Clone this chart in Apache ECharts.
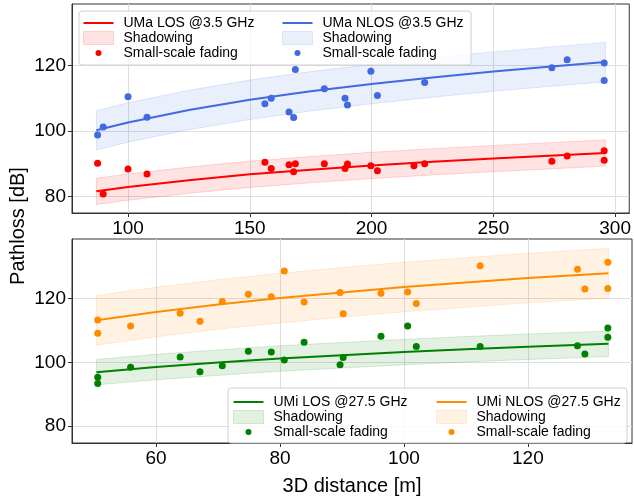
<!DOCTYPE html>
<html>
<head>
<meta charset="utf-8">
<script src="https://cdn.jsdelivr.net/npm/echarts@6/dist/echarts.min.js"></script>
<style>
  html, body { margin: 0; padding: 0; background: #fff; }
  #main { width: 634px; height: 497px; }
</style>
</head>
<body>
<div id="main"></div>
<script>
// ---- top panel: UMa @ 3.5 GHz ----
var umaLosDist = [87.5, 89.8, 100, 107.8, 156.2, 158.8, 166.1, 168, 168.7, 180.6, 189.1, 190.1, 199.7, 202.4, 217.4, 221.8, 274, 280.3, 295.5, 295.5];
var umaLosPL   = [90.2, 80.8, 88.4, 86.9, 90.5, 88.6, 89.7, 87.6, 90.0, 90.0, 88.6, 89.9, 89.4, 87.9, 89.4, 90.0, 90.8, 92.4, 94.0, 91.1];
var umaNlosDist = [87.5, 89.8, 100, 107.8, 156.2, 158.8, 166.1, 168, 168.7, 180.6, 189.1, 190.1, 199.7, 202.4, 221.8, 274, 280.3, 295.5, 295.5];
var umaNlosPL   = [98.8, 101.2, 110.4, 104.2, 108.3, 110.0, 105.8, 104.1, 118.7, 112.9, 110.0, 107.9, 118.2, 110.8, 114.8, 119.3, 121.7, 120.7, 115.4];

// model curves
var umaCurveDist = [87, 100, 125, 150, 175, 200, 225, 250, 275, 296];
var umaLosCurve  = [81.6, 82.9, 85.0, 86.8, 88.2, 89.5, 90.6, 91.6, 92.5, 93.3];
var umaNlosCurve = [100.2, 102.6, 106.4, 109.5, 112.1, 114.3, 116.3, 118.1, 119.7, 121.0];
var umaLosSpread = 4;
var umaNlosSpread = 6;

// ---- bottom panel: UMi @ 27.5 GHz ----
var umiDist = [50.6, 50.6, 55.9, 63.9, 67.1, 70.7, 74.9, 78.6, 80.7, 83.9, 89.7, 90.2, 96.3, 100.6, 102.0, 112.3, 128.0, 129.2, 132.9, 132.9];
var umiLosPL  = [95.3, 93.3, 98.4, 101.7, 97.0, 98.9, 103.5, 103.2, 100.7, 106.3, 99.2, 101.5, 108.2, 111.4, 105.0, 105.0, 105.2, 102.6, 110.8, 107.9];
var umiNlosPL = [113.3, 109.1, 111.4, 115.4, 112.9, 119.1, 121.4, 120.6, 128.7, 119.0, 122.0, 115.3, 121.7, 122.1, 118.5, 130.4, 129.3, 123.1, 131.5, 123.2];

var umiCurveDist = [50.4, 60, 70, 80, 90, 100, 110, 120, 133];
var umiLosCurve  = [96.9, 98.5, 99.9, 101.2, 102.2, 103.2, 104.1, 104.9, 105.8];
var umiNlosCurve = [113.2, 115.8, 118.2, 120.2, 122.0, 123.7, 125.1, 126.5, 128.0];
var umiLosSpread = 4;
var umiNlosSpread = 7.8;

var topTicksX = [100, 150, 200, 250, 300];
var botTicksX = [60, 80, 100, 120];
var ticksY = [80, 100, 120];

var labels = {
    'uma-los': 'UMa LOS @3.5 GHz', 'uma-nlos': 'UMa NLOS @3.5 GHz',
    'umi-los': 'UMi LOS @27.5 GHz', 'umi-nlos': 'UMi NLOS @27.5 GHz'
};

var FONT = '"Liberation Sans", Arial, sans-serif';
// icons padded to the 30x13 legend box with two leading moveTo points
var dotIcon = 'path://M0,0M30,13M12,6.5a3,3 0 1,0 6,0a3,3 0 1,0 -6,0z';
var lineIcon = 'path://M0,0M30,13M0,5.5H30V7.5H0Z';

function zip(xs, ys) {
    return xs.map(function (x, i) { return [x, ys[i]]; });
}

function bandSeries(key, axis, dist, curve, spread, edge, fill) {
    var rows = dist.map(function (d, i) { return [d, curve[i] - spread, curve[i] + spread]; });
    return {
        name: key + '-sh', type: 'custom', xAxisIndex: axis, yAxisIndex: axis,
        silent: true, z: 1, data: rows,
        encode: { x: 0, y: [1, 2] },
        itemStyle: { color: fill },
        renderItem: function (params, api) {
            if (params.dataIndexInside !== 0) return;
            var n = params.dataInsideLength;
            var top = [], bot = [];
            for (var i = 0; i < n; i++) {
                top.push(api.coord([api.value(0, i), api.value(2, i)]));
                bot.push(api.coord([api.value(0, i), api.value(1, i)]));
            }
            return {
                type: 'polygon',
                shape: { points: top.concat(bot.reverse()) },
                style: { fill: fill, stroke: edge, lineWidth: 1 }
            };
        }
    };
}

function lineSeries(key, axis, dist, curve, color) {
    return {
        name: key, type: 'line', xAxisIndex: axis, yAxisIndex: axis,
        data: zip(dist, curve), symbol: 'none', z: 3,
        lineStyle: { color: color, width: 2 }, itemStyle: { color: color }
    };
}

function dotSeries(key, axis, dist, pl, color) {
    return {
        name: key + '-pt', type: 'scatter', xAxisIndex: axis, yAxisIndex: axis,
        data: zip(dist, pl), symbolSize: 7, z: 4,
        itemStyle: { color: color, opacity: 1 }
    };
}

function legend(key, left, top, color, fill, edge) {
    return {
        orient: 'vertical', left: left, top: top, padding: 0, itemGap: 1,
        itemWidth: 30, itemHeight: 13, selectedMode: false, z: 10,
        textStyle: { fontFamily: FONT, fontSize: 14, color: '#000', padding: [0, 0, 0, 5] },
        formatter: function (name) {
            if (labels[name]) return labels[name];
            if (/-sh$/.test(name)) return 'Shadowing';
            return 'Small-scale fading';
        },
        data: [
            { name: key, icon: lineIcon, itemStyle: { color: color, borderWidth: 0 } },
            { name: key + '-sh', icon: 'rect', itemStyle: { color: fill, borderColor: edge, borderWidth: 1 } },
            { name: key + '-pt', icon: dotIcon, itemStyle: { color: color, borderWidth: 0 } }
        ]
    };
}

function xAxis(idx, min, max, ticks, name) {
    return {
        type: 'value', gridIndex: idx, min: min, max: max,
        name: name || '', nameLocation: 'middle', nameGap: 33,
        nameTextStyle: { fontFamily: FONT, fontSize: 20, color: '#000' },
        axisLine: { lineStyle: { color: '#333' } },
        axisTick: { length: 4, customValues: ticks, lineStyle: { color: '#333' } },
        axisLabel: { customValues: ticks, fontFamily: FONT, fontSize: 19, color: '#000', margin: 6 },
        splitLine: { show: true, lineStyle: { color: '#dedede', width: 1 } }
    };
}

function yAxis(idx, min, max) {
    return {
        type: 'value', gridIndex: idx, min: min, max: max, splitNumber: 3,
        axisLine: { show: true, lineStyle: { color: '#333' } },
        axisTick: { show: true, length: 4, customValues: ticksY, lineStyle: { color: '#333' } },
        axisLabel: { customValues: ticksY, fontFamily: FONT, fontSize: 19, color: '#000', margin: 6 },
        splitLine: { show: true, lineStyle: { color: '#dedede', width: 1 } }
    };
}

var RED = '#ff0000', BLUE = '#4169e1', GREEN = '#008000', ORANGE = '#ff8c00';

var series = [
    bandSeries('uma-los', 0, umaCurveDist, umaLosCurve, umaLosSpread, 'rgba(255,0,0,0.15)', 'rgba(255,0,0,0.11)'),
    bandSeries('uma-nlos', 0, umaCurveDist, umaNlosCurve, umaNlosSpread, 'rgba(65,105,225,0.15)', 'rgba(65,105,225,0.11)'),
    bandSeries('umi-los', 1, umiCurveDist, umiLosCurve, umiLosSpread, 'rgba(0,128,0,0.15)', 'rgba(0,128,0,0.11)'),
    bandSeries('umi-nlos', 1, umiCurveDist, umiNlosCurve, umiNlosSpread, 'rgba(255,140,0,0.15)', 'rgba(255,140,0,0.11)'),
    lineSeries('uma-los', 0, umaCurveDist, umaLosCurve, RED),
    lineSeries('uma-nlos', 0, umaCurveDist, umaNlosCurve, BLUE),
    lineSeries('umi-los', 1, umiCurveDist, umiLosCurve, GREEN),
    lineSeries('umi-nlos', 1, umiCurveDist, umiNlosCurve, ORANGE),
    dotSeries('uma-los', 0, umaLosDist, umaLosPL, RED),
    dotSeries('uma-nlos', 0, umaNlosDist, umaNlosPL, BLUE),
    dotSeries('umi-los', 1, umiDist, umiLosPL, GREEN),
    dotSeries('umi-nlos', 1, umiDist, umiNlosPL, ORANGE)
];

var myChart = echarts.init(document.getElementById('main'));
var option = {
    animation: false,
    backgroundColor: '#fff',
    grid: [
        { left: 72, top: 4, width: 560, height: 209, show: true, borderColor: '#333', borderWidth: 1 },
        { left: 72, top: 239, width: 560, height: 211, show: true, borderColor: '#333', borderWidth: 1 }
    ],
    xAxis: [
        xAxis(0, 77.0, 305.8, topTicksX),
        xAxis(1, 46.45, 136.8, botTicksX, '3D distance [m]')
    ],
    yAxis: [
        yAxis(0, 75.0, 138.7),
        yAxis(1, 74.6, 138.8)
    ],
    legend: [
        legend('uma-los', 83, 16, RED, 'rgba(255,0,0,0.11)', 'rgba(255,0,0,0.15)'),
        legend('uma-nlos', 282, 16, BLUE, 'rgba(65,105,225,0.11)', 'rgba(65,105,225,0.15)'),
        legend('umi-los', 233, 395, GREEN, 'rgba(0,128,0,0.11)', 'rgba(0,128,0,0.15)'),
        legend('umi-nlos', 436, 395, ORANGE, 'rgba(255,140,0,0.11)', 'rgba(255,140,0,0.15)')
    ],
    graphic: [
        { type: 'rect', z: 5, shape: { x: 79, y: 11, width: 392, height: 54, r: 3 },
          style: { fill: 'rgba(255,255,255,0.8)', stroke: '#d0d0d0', lineWidth: 1 } },
        { type: 'rect', z: 5, shape: { x: 228, y: 388, width: 399, height: 55, r: 3 },
          style: { fill: 'rgba(255,255,255,0.8)', stroke: '#d0d0d0', lineWidth: 1 } },
        { type: 'text', x: 18, y: 226, rotation: Math.PI / 2,
          style: { text: 'Pathloss [dB]', font: '20px ' + FONT, fill: '#000',
                   align: 'center', verticalAlign: 'middle', textAlign: 'center', textVerticalAlign: 'middle' } }
    ],
    series: series
};
myChart.setOption(option);
window.addEventListener('resize', function () {
    myChart.resize();
});
</script>
</body>
</html>
